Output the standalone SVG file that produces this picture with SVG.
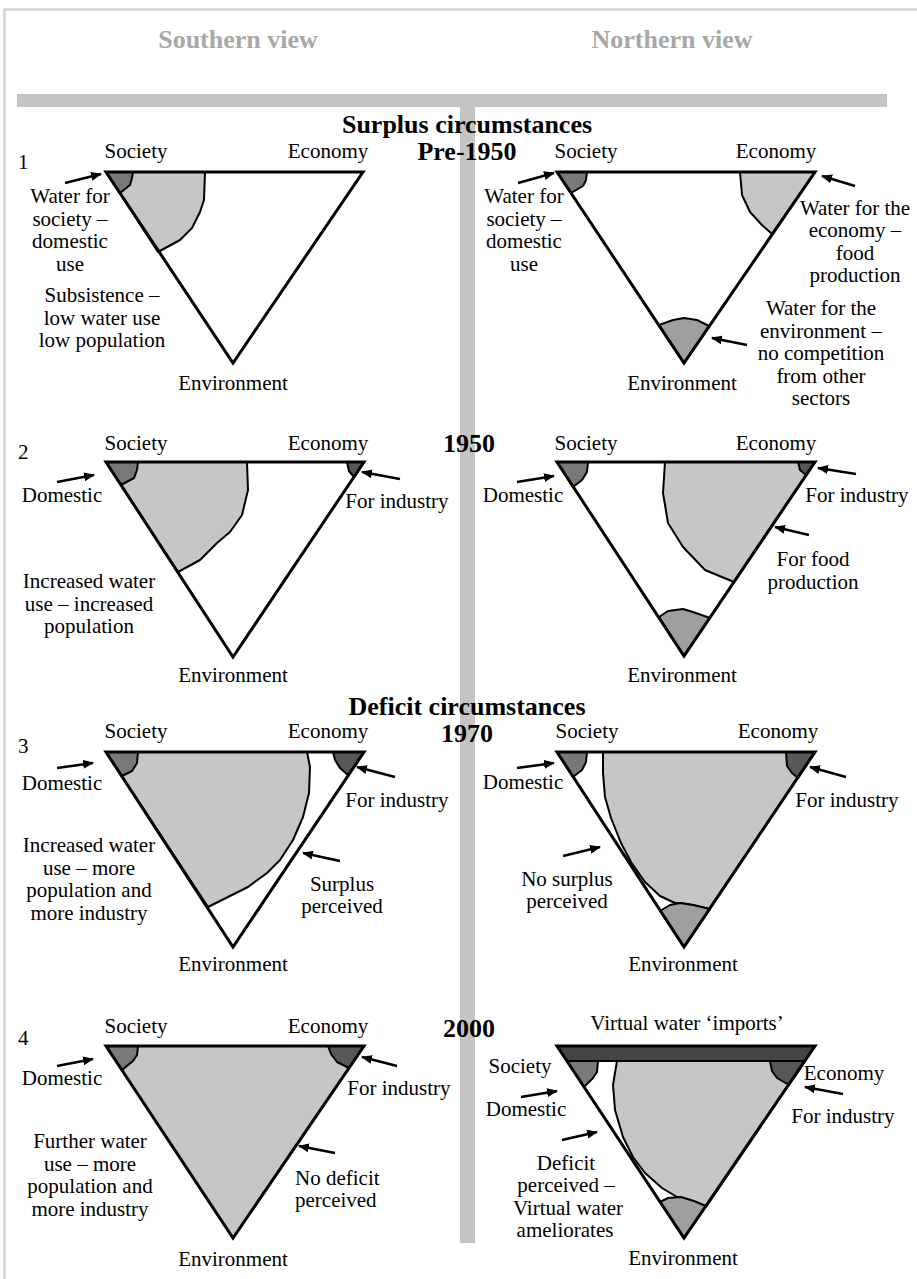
<svg xmlns="http://www.w3.org/2000/svg" width="917" height="1279" viewBox="0 0 917 1279">
  <style>
    text { font-family: "Liberation Serif", "Times New Roman", serif; font-size: 21px; fill: #000; }
    .c { text-anchor: middle; }
    .head { font-weight: bold; font-size: 26px; fill: #a8a8a8; text-anchor: middle; }
    .title { font-weight: bold; font-size: 26px; text-anchor: middle; }
    .bar { fill: #c4c4c4; }
    .tri { fill: #fff; }
    .outline { fill: none; stroke: #000; stroke-width: 3; stroke-linejoin: miter; }
    .zone { stroke: #000; stroke-width: 2; stroke-linejoin: round; }
    .light { fill: #c6c6c6; }
    .soc { fill: #7a7878; }
    .eco { fill: #595656; }
    .env { fill: #a09e9e; }
    .virt { fill: #484444; stroke: #000; stroke-width: 2; }
    .arrow { fill: none; stroke: #000; stroke-width: 2.5; marker-end: url(#head); }
  </style>
  <defs>
    <marker id="head" markerUnits="userSpaceOnUse" markerWidth="11" markerHeight="9" refX="10" refY="4.5" orient="auto">
      <path d="M0,0 L11,4.5 L0,9 Z" fill="#000"/>
    </marker>
  </defs>

  <!-- page frame and column dividers -->
  <path d="M4.5,1279 V9.5 H917" fill="none" stroke="#d2d2d2" stroke-width="2.5"/>
  <rect class="bar" x="17" y="94" width="870" height="13"/>
  <rect class="bar" x="460" y="107" width="15" height="1136"/>

  <!-- column headings and period titles -->
  <g id="headings">
    <text class="head" x="238" y="48">Southern view</text>
    <text class="head" x="672" y="48">Northern view</text>
    <text class="title" x="467" y="133">Surplus circumstances</text>
    <text class="title" x="467" y="160">Pre-1950</text>
    <text class="title" x="469" y="452">1950</text>
    <text class="title" x="467" y="715">Deficit circumstances</text>
    <text class="title" x="467" y="742">1970</text>
    <text class="title" x="469" y="1037">2000</text>
  </g>

  <!-- 1: south, pre-1950 -->
  <g id="panel-1-south">
    <path class="tri" d="M106,172 L363,172 L233,363 Z"/>
    <path class="zone light" d="M106,172 L205,172 L204,200 L200,212 L192,228 L180,240 L158,252 Z"/>
    <path class="zone soc" d="M106,172 L133,172 L132,178 L130,185 L120,193 Z"/>
    <path class="outline" d="M106,172 L363,172 L233,363 Z"/>
    <text x="18" y="169">1</text>
    <text class="c" x="136" y="158">Society</text>
    <text class="c" x="328" y="158">Economy</text>
    <text class="c" x="233" y="390">Environment</text>
    <text class="c" x="70" y="203">Water for</text>
    <text class="c" x="70" y="225.5">society –</text>
    <text class="c" x="70" y="248">domestic</text>
    <text class="c" x="70" y="270.5">use</text>
    <text class="c" x="102" y="302">Subsistence –</text>
    <text class="c" x="102" y="324.5">low water use</text>
    <text class="c" x="102" y="347">low population</text>
  </g>

  <!-- 1: north, pre-1950 -->
  <g id="panel-1-north">
    <path class="tri" d="M557,172 L815,172 L684,363 Z"/>
    <path class="zone soc" d="M557,172 L587,172 L586,180 L583,186 L571,193 Z"/>
    <path class="zone light" d="M740,172 L815,172 L772,234 L762,225 L750,212 L742,195 Z"/>
    <path class="zone env" d="M659,325 L673,320 L684,318 L697,320 L709,326 L684,363 Z"/>
    <path class="outline" d="M557,172 L815,172 L684,363 Z"/>
    <text class="c" x="586" y="158">Society</text>
    <text class="c" x="776" y="158">Economy</text>
    <text class="c" x="682" y="390">Environment</text>
    <text class="c" x="524" y="203">Water for</text>
    <text class="c" x="524" y="225.5">society –</text>
    <text class="c" x="524" y="248">domestic</text>
    <text class="c" x="524" y="270.5">use</text>
    <text class="c" x="855" y="214.5">Water for the</text>
    <text class="c" x="855" y="237">economy –</text>
    <text class="c" x="855" y="259.5">food</text>
    <text class="c" x="855" y="282">production</text>
    <text class="c" x="821" y="315">Water for the</text>
    <text class="c" x="821" y="337.5">environment –</text>
    <text class="c" x="821" y="360">no competition</text>
    <text class="c" x="821" y="382.5">from other</text>
    <text class="c" x="821" y="405">sectors</text>
  </g>

  <!-- 2: south, 1950 -->
  <g id="panel-2-south">
    <path class="tri" d="M106,462 L364,462 L233,657 Z"/>
    <path class="zone light" d="M106,462 L247,462 L248,490 L242,515 L230,532 L217,543 L200,560 L178,572 Z"/>
    <path class="zone soc" d="M106,462 L138,462 L137,470 L134,478 L121,485 Z"/>
    <path class="zone eco" d="M347,462 L364,462 L354,477 L349,471 Z"/>
    <path class="outline" d="M106,462 L364,462 L233,657 Z"/>
    <text x="18" y="459">2</text>
    <text class="c" x="136" y="450">Society</text>
    <text class="c" x="328" y="450">Economy</text>
    <text class="c" x="233" y="682">Environment</text>
    <text class="c" x="62" y="502">Domestic</text>
    <text class="c" x="397" y="508">For industry</text>
    <text class="c" x="89" y="588">Increased water</text>
    <text class="c" x="89" y="610.5">use – increased</text>
    <text class="c" x="89" y="633">population</text>
  </g>

  <!-- 2: north, 1950 -->
  <g id="panel-2-north">
    <path class="tri" d="M557,462 L815,462 L684,656 Z"/>
    <path class="zone soc" d="M557,462 L588,462 L587,472 L582,480 L573,487 Z"/>
    <path class="zone light" d="M665,462 L815,462 L734,582 L705,570 L683,547 L668,523 L663,493 Z"/>
    <path class="zone eco" d="M798,462 L815,462 L806,475 L800,470 Z"/>
    <path class="zone env" d="M659,617 L668,611 L683,609 L693,612 L710,618 L684,656 Z"/>
    <path class="outline" d="M557,462 L815,462 L684,656 Z"/>
    <text class="c" x="586" y="450">Society</text>
    <text class="c" x="776" y="450">Economy</text>
    <text class="c" x="682" y="682">Environment</text>
    <text class="c" x="523" y="502">Domestic</text>
    <text class="c" x="857" y="502">For industry</text>
    <text class="c" x="813" y="566">For food</text>
    <text class="c" x="813" y="588.5">production</text>
  </g>

  <!-- 3: south, 1970 -->
  <g id="panel-3-south">
    <path class="tri" d="M106,752 L364,752 L233,947 Z"/>
    <path class="zone light" d="M106,752 L307,752 L310,767 L309,793 L303,817 L293,840 L280,860 L267,873 L248,887 L208,907 Z"/>
    <path class="zone soc" d="M106,752 L138,752 L137,763 L132,771 L122,776 Z"/>
    <path class="zone eco" d="M333,752 L364,752 L348,775 L340,768 L335,760 Z"/>
    <path class="outline" d="M106,752 L364,752 L233,947 Z"/>
    <text x="18" y="753">3</text>
    <text class="c" x="136" y="738">Society</text>
    <text class="c" x="328" y="738">Economy</text>
    <text class="c" x="233" y="971">Environment</text>
    <text class="c" x="62" y="790">Domestic</text>
    <text class="c" x="397" y="807">For industry</text>
    <text class="c" x="89" y="852">Increased water</text>
    <text class="c" x="89" y="875">use – more</text>
    <text class="c" x="89" y="897">population and</text>
    <text class="c" x="89" y="920">more industry</text>
    <text class="c" x="342" y="891">Surplus</text>
    <text class="c" x="342" y="913">perceived</text>
  </g>

  <!-- 3: north, 1970 -->
  <g id="panel-3-north">
    <path class="tri" d="M557,752 L815,752 L684,947 Z"/>
    <path class="zone light" d="M603,752 L815,752 L709,909 L693,905 L680,903 L675,903 L660,896 L645,882 L631,862 L621,843 L611,818 L605,797 L603,773 Z"/>
    <path class="zone soc" d="M557,752 L587,752 L586,762 L582,770 L573,777 Z"/>
    <path class="zone eco" d="M786,752 L815,752 L798,778 L792,773 L787,766 Z"/>
    <path class="zone env" d="M660,911 L670,905 L680,903 L693,905 L710,909 L684,947 Z"/>
    <path class="outline" d="M557,752 L815,752 L684,947 Z"/>
    <text class="c" x="587" y="738">Society</text>
    <text class="c" x="778" y="738">Economy</text>
    <text class="c" x="683" y="971">Environment</text>
    <text class="c" x="523" y="789">Domestic</text>
    <text class="c" x="847" y="807">For industry</text>
    <text class="c" x="567" y="886">No surplus</text>
    <text class="c" x="567" y="908">perceived</text>
  </g>

  <!-- 4: south, 2000 -->
  <g id="panel-4-south">
    <path class="light" d="M106,1046 L364,1046 L233,1238 Z"/>
    <path class="zone soc" d="M106,1046 L138,1046 L137,1055 L133,1061 L122,1070 Z"/>
    <path class="zone eco" d="M328,1046 L364,1046 L349,1068 L337,1062 L331,1054 Z"/>
    <path class="outline" d="M106,1046 L364,1046 L233,1238 Z"/>
    <text x="18" y="1045">4</text>
    <text class="c" x="136" y="1033">Society</text>
    <text class="c" x="328" y="1033">Economy</text>
    <text class="c" x="233" y="1266">Environment</text>
    <text class="c" x="62" y="1085">Domestic</text>
    <text class="c" x="399" y="1095">For industry</text>
    <text class="c" x="90" y="1148">Further water</text>
    <text class="c" x="90" y="1171">use – more</text>
    <text class="c" x="90" y="1193">population and</text>
    <text class="c" x="90" y="1216">more industry</text>
    <text x="295" y="1185">No deficit</text>
    <text x="295" y="1207">perceived</text>
  </g>

  <!-- 4: north, 2000 -->
  <g id="panel-4-north">
    <path class="tri" d="M557,1046 L815,1046 L684,1238 Z"/>
    <path class="zone light" d="M617,1061 L805,1061 L706,1207 L693,1202 L677,1197 L662,1188 L645,1173 L633,1157 L623,1137 L615,1110 L613,1085 L615,1073 Z"/>
    <path class="zone soc" d="M567,1061 L598,1061 L597,1072 L593,1078 L584,1087 Z"/>
    <path class="zone eco" d="M770,1061 L805,1061 L789,1085 L777,1078 L772,1071 Z"/>
    <path class="zone env" d="M660,1202 L668,1198 L681,1197 L694,1201 L706,1206 L684,1238 Z"/>
    <path class="virt" d="M557,1046 L815,1046 L805,1061 L567,1061 Z"/>
    <path class="outline" d="M557,1046 L815,1046 L684,1238 Z"/>
    <text class="c" x="687" y="1030">Virtual water ‘imports’</text>
    <text class="c" x="520" y="1073">Society</text>
    <text class="c" x="844" y="1080">Economy</text>
    <text class="c" x="683" y="1265">Environment</text>
    <text class="c" x="526" y="1116">Domestic</text>
    <text class="c" x="843" y="1123">For industry</text>
    <text class="c" x="566" y="1170">Deficit</text>
    <text class="c" x="566" y="1192">perceived –</text>
    <text class="c" x="568" y="1215">Virtual water</text>
    <text class="c" x="565" y="1237">ameliorates</text>
  </g>

  <!-- label pointers -->
  <g id="connectors">
    <path class="arrow" d="M65,183 L101,174"/>
    <path class="arrow" d="M518,183 L554,173"/>
    <path class="arrow" d="M855,186 L822,176"/>
    <path class="arrow" d="M747,345 L712,338"/>
    <path class="arrow" d="M57,482 L94,475"/>
    <path class="arrow" d="M400,479 L362,472"/>
    <path class="arrow" d="M517,482 L554,476"/>
    <path class="arrow" d="M856,474 L818,468"/>
    <path class="arrow" d="M809,535 L775,527"/>
    <path class="arrow" d="M57,768 L93,763"/>
    <path class="arrow" d="M395,777 L357,767"/>
    <path class="arrow" d="M340,861 L303,853"/>
    <path class="arrow" d="M517,768 L554,763"/>
    <path class="arrow" d="M846,777 L810,767"/>
    <path class="arrow" d="M563,856 L600,847"/>
    <path class="arrow" d="M57,1066 L93,1059"/>
    <path class="arrow" d="M397,1066 L362,1057"/>
    <path class="arrow" d="M335,1153 L299,1146"/>
    <path class="arrow" d="M521,1097 L557,1091"/>
    <path class="arrow" d="M843,1094 L805,1087"/>
    <path class="arrow" d="M562,1140 L597,1132"/>
  </g>
</svg>
